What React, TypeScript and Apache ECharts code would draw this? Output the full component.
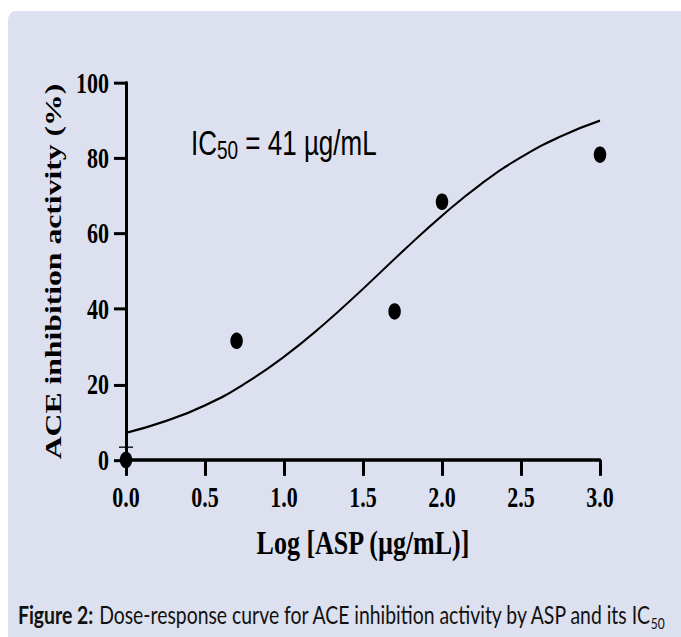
import React, { useEffect, useRef } from "react";
import * as echarts from "echarts";

// The reference picture is stretched vertically; the chart is drawn at its
// natural height and scaled by S.
const S = 1.32;
const W = 681;
const H = Math.round(637 / S);

const PANEL = "#dde0ee";
const SERIF = "'Liberation Serif', 'Times New Roman', serif";
const SANS = "'Liberation Sans', Arial, sans-serif";
const CAPTION_FONT = "Lato, 'Noto Sans', sans-serif";

// Data
const pointX = [0, 0.7, 1.7, 2.0, 3.0];
const pointY = [0, 31.6, 39.4, 68.5, 81.0];
const pointErr = [3.4, 0, 0, 0, 0];

const curveX = [0, 0.25, 0.5, 0.75, 1.0, 1.25, 1.5, 1.75, 2.0, 2.25, 2.5, 2.75, 3.0];
const curveY = [7.2, 10.3, 14.5, 20.2, 27.4, 35.9, 45.4, 55.3, 64.8, 73.3, 80.3, 85.8, 90.0];

const xTickLabels = ["0.0", "0.5", "1.0", "1.5", "2.0", "2.5", "3.0"];
const yTickLabels = ["0", "20", "40", "60", "80", "100"];

const xTitle = "Log [ASP (µg/mL)]";
const yTitle = "ACE inhibition activity (%)";
const annotMain = "IC";
const annotSub = "50";
const annotRest = "\u00a0= 41 µg/mL";
const captionBold = "Figure 2:";
const captionText = "Dose-response curve for ACE inhibition activity by ASP and its IC";
const captionSub = "50";

let ctx: CanvasRenderingContext2D | null = null;
function textWidth(text: string, font: string): number {
  if (!ctx) ctx = document.createElement("canvas").getContext("2d");
  if (!ctx) return text.length * 8;
  ctx.font = font;
  return ctx.measureText(text).width;
}

export default function App() {
  const ref = useRef<HTMLDivElement>(null);

  useEffect(() => {
    if (!ref.current) return;
    const chart = echarts.init(ref.current, undefined, { renderer: "svg" });

    // IC50 annotation
    const aF = 26;
    const aSubF = 19;
    const aX = 191;
    const aBase = 154 / S;
    const aDrop = 5 / S;
    const aPad = 2 * (aDrop + 0.3465 * (aF - aSubF));

    // Caption
    const capLeft = 18;
    const capRight = 650;
    const wb10 = textWidth(captionBold + " ", `bold 10px Lato`);
    const wr10 = textWidth(captionText, `10px Lato`);
    const cF = (1.004 * 10 * (capRight - capLeft)) / (wb10 + wr10);
    const cBase = 624 / S;
    const cSubF = cF * 0.62;
    const cSubBase = 629 / S;

    const capStyle = { fontFamily: CAPTION_FONT, fill: "#111", verticalAlign: "middle" };

    const option: any = {
      animation: false,
      backgroundColor: "#ffffff",
      grid: {
        left: 126,
        right: W - 600,
        top: 83 / S,
        bottom: H - 460 / S,
        containLabel: false,
      },
      xAxis: {
        type: "value",
        min: 0,
        max: 3,
        interval: 0.5,
        name: xTitle,
        nameLocation: "middle",
        nameGap: 50,
        nameTextStyle: { fontFamily: SERIF, fontWeight: "bold", fontSize: 26, color: "#000" },
        axisLine: { show: true, onZero: false, lineStyle: { color: "#000", width: 2.5 } },
        axisTick: { show: true, length: 12, lineStyle: { color: "#000", width: 3 } },
        axisLabel: {
          formatter: (v: number) => xTickLabels[Math.round(v / 0.5)] ?? "",
          fontFamily: SERIF,
          fontWeight: "bold",
          fontSize: 22,
          color: "#000",
          margin: 17,
        },
        splitLine: { show: false },
      },
      yAxis: {
        type: "value",
        min: 0,
        max: 100,
        interval: 20,
        name: yTitle,
        nameLocation: "middle",
        nameGap: 56,
        nameTextStyle: { fontFamily: SERIF, fontWeight: "bold", fontSize: 24, color: "#000" },
        axisLine: { show: true, lineStyle: { color: "#000", width: 3 } },
        axisTick: { show: true, length: 12, lineStyle: { color: "#000", width: 3 / S } },
        axisLabel: {
          formatter: (v: number) => yTickLabels[Math.round(v / 20)] ?? "",
          fontFamily: SERIF,
          fontWeight: "bold",
          fontSize: 22,
          color: "#000",
          margin: 17,
        },
        splitLine: { show: false },
      },
      series: [
        {
          type: "line",
          data: curveX.map((x, i) => [x, curveY[i]]),
          smooth: true,
          symbol: "none",
          showSymbol: false,
          lineStyle: { color: "#000", width: 1.7 },
          z: 2,
        },
        {
          type: "custom",
          data: pointX.map((x, i) => [x, pointY[i], pointErr[i]]),
          encode: { x: 0, y: 1 },
          clip: false,
          z: 3,
          renderItem: (params: any, api: any) => {
            const x = api.value(0);
            const y = api.value(1);
            const e = api.value(2);
            if (!e) return null;
            const p0 = api.coord([x, y]);
            const p1 = api.coord([x, y + e]);
            return {
              type: "group",
              children: [
                {
                  type: "line",
                  shape: { x1: p0[0], y1: p0[1], x2: p1[0], y2: p1[1] },
                  style: { stroke: "#000", lineWidth: 1.3 },
                },
                {
                  type: "line",
                  shape: { x1: p1[0] - 7, y1: p1[1], x2: p1[0] + 7, y2: p1[1] },
                  style: { stroke: "#000", lineWidth: 1.0 },
                },
              ],
            };
          },
        },
        {
          type: "scatter",
          data: pointX.map((x, i) => [x, pointY[i]]),
          symbol: "circle",
          symbolSize: 12.5,
          itemStyle: { color: "#000", opacity: 1 },
          clip: false,
          z: 4,
        },
      ],
      graphic: [
        {
          type: "rect",
          z: -10,
          silent: true,
          shape: { x: 8, y: 11 / S, width: 720, height: 720, r: 7 },
          style: { fill: PANEL },
        },
        {
          type: "text",
          x: aX,
          y: aBase - 0.3465 * aF,
          style: {
            text: `{m|${annotMain}}{s|${annotSub}}{m|${annotRest}}`,
            align: "left",
            verticalAlign: "middle",
            rich: {
              m: { fontFamily: SANS, fontSize: aF, fill: "#000", color: "#000" },
              s: { fontFamily: SANS, fontSize: aSubF, fill: "#000", color: "#000", padding: [aPad, 0, 0, 0] },
            },
          },
        },
        {
          type: "text",
          x: capLeft,
          y: cBase - 0.387 * cF,
          style: { ...capStyle, text: captionBold, fontWeight: "bold", fontSize: cF, align: "left" },
        },
        {
          type: "text",
          x: capRight,
          y: cBase - 0.387 * cF,
          style: { ...capStyle, text: captionText, fontSize: cF, align: "right" },
        },
        {
          type: "text",
          x: capRight + 0.8,
          y: cSubBase - 0.387 * cSubF,
          style: { ...capStyle, text: captionSub, fontSize: cSubF, align: "left" },
        },
      ],
    };

    chart.setOption(option);
    return () => chart.dispose();
  }, []);

  return (
    <div
      ref={ref}
      style={{
        position: "fixed",
        left: 0,
        top: 0,
        width: W,
        height: H,
        transform: `scaleY(${S})`,
        transformOrigin: "top left",
      }}
    />
  );
}
